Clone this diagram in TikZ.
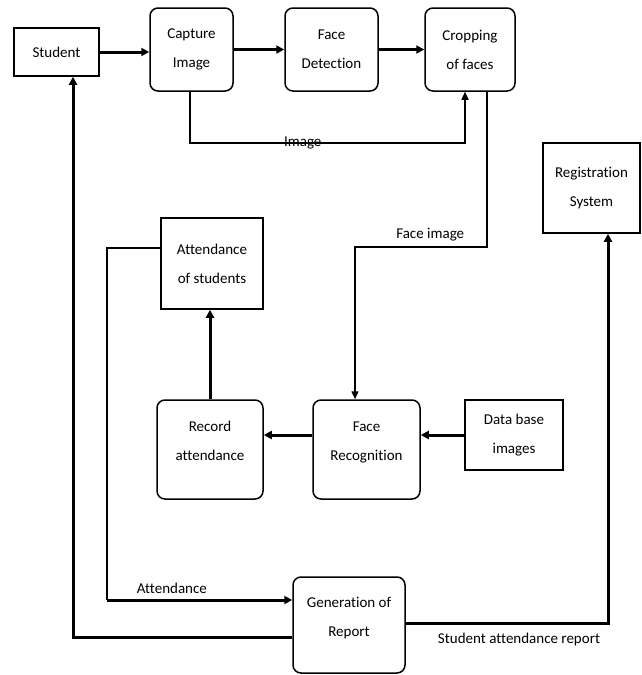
\documentclass[tikz,border=0pt]{standalone}
\usepackage{fontspec}
\setmainfont[Ligatures=NoCommon]{Carlito}
\usetikzlibrary{arrows.meta}
\begin{document}
\begin{tikzpicture}[x=1pt,y=-1pt,
  every node/.style={font=\fontsize{15}{29}\selectfont, align=center, inner sep=0pt},
  sqbox/.style={draw, line width=1.5pt},
  rbox/.style={draw, line width=1.5pt, rounded corners=8pt},
  thin link/.style={line width=1.5pt},
  thick link/.style={line width=3pt, -{Triangle[length=8pt,width=8pt]}},
  thin arrow/.style={line width=1.5pt, -{Triangle[length=8pt,width=7pt]}},
  lbl/.style={font=\fontsize{15}{17}\selectfont}]
\useasboundingbox (0,0) rectangle (641,675);
% boxes
\node[sqbox, minimum width=85pt, minimum height=48pt] (student) at (56.5,52) {Student};
\node[rbox, minimum width=83pt, minimum height=83pt] (capture) at (191.5,49.5) {Capture\\Image};
\node[rbox, minimum width=93pt, minimum height=83pt] (detect) at (331.5,49.5) {Face\\Detection};
\node[rbox, minimum width=90pt, minimum height=83pt] (crop) at (470,49.5) {Cropping\\of faces};
\node[sqbox, minimum width=97pt, minimum height=90pt] (reg) at (591.5,188) {Registration\\System};
\node[sqbox, minimum width=102pt, minimum height=91pt] (att) at (212,263.5) {Attendance\\of students};
\node[rbox, minimum width=106pt, minimum height=99pt] (record) at (210,449.5) {Record\\attendance\\[-12pt]};
\node[rbox, minimum width=107pt, minimum height=99pt] (recog) at (366.5,449.5) {Face\\Recognition\\[-12pt]};
\node[sqbox, minimum width=98pt, minimum height=70pt] (db) at (514,435) {Data base\\images};
\node[rbox, minimum width=112pt, minimum height=96pt] (gen) at (349,625) {Generation of\\Report\\[-12pt]};
% coordinates
\coordinate (c1) at (190,143);
\coordinate (c2) at (465,143);
\coordinate (f1) at (487,247);
\coordinate (f2) at (355,247);
\coordinate (a1) at (107,248);
\coordinate (a2) at (107,600);
\coordinate (g1) at (73,637);
\coordinate (r1) at (608,623);
% connectors
\draw[thick link] (student.east) -- (capture.west |- student.east);
\draw[thick link] (capture.east) -- (detect.west);
\draw[thick link] (detect.east) -- (crop.west);
\draw[thin arrow] (capture.south -| c1) -- (c1) -- node[lbl, pos=0.41, above=-7pt] {Image} (c2) -- (crop.south -| c2);
\draw[thin arrow] (crop.south -| f1) -- (f1) -- node[lbl, pos=0.43, above=5pt] {Face image} (f2) -- (recog.north -| f2);
\draw[thick link] (db.west) -- (recog.east |- db.west);
\draw[thick link] (recog.west |- db.west) -- (record.east |- db.west);
\draw[thick link] (record.north) -- (att.south -| record.north);
\draw[thin link] (att.west |- a1) -- (a1) -- (a2);
\draw[thick link] (a2) -- node[lbl, pos=0.35, above=5pt] {Attendance} (gen.west |- a2);
\draw[thick link] (gen.west |- g1) -- (g1) -- (student.south -| g1);
\draw[thick link] (gen.east |- r1) -- node[lbl, pos=0.56, below=9pt] {Student attendance report} (r1) -- (reg.south -| r1);
\end{tikzpicture}
\end{document}
